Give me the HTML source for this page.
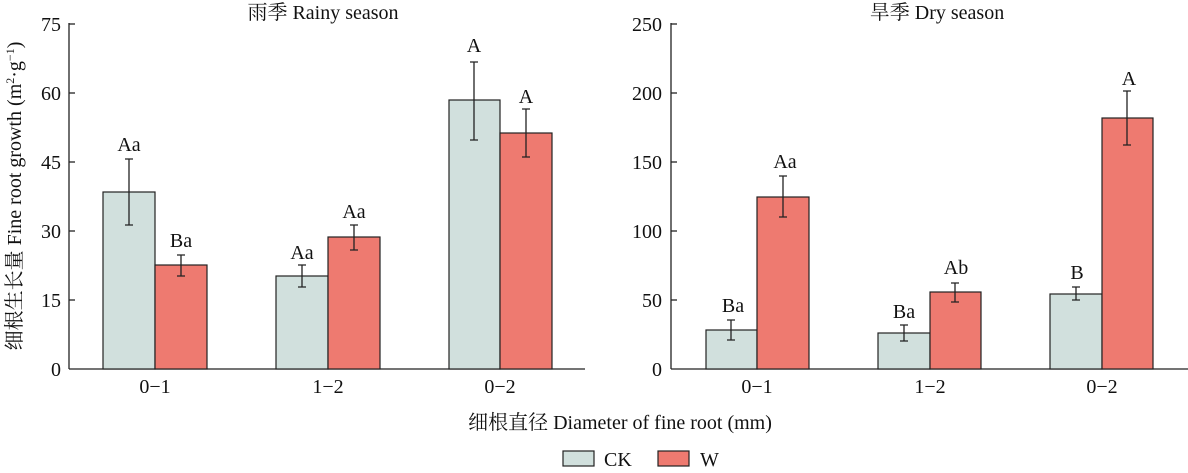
<!DOCTYPE html>
<html><head><meta charset="utf-8"><style>
body{margin:0;background:#fff;}
svg text{font-family:"Liberation Serif","Noto Serif CJK SC",serif;fill:#111;}
</style></head><body>
<svg width="1188" height="468" viewBox="0 0 1188 468" xmlns="http://www.w3.org/2000/svg">
<g stroke="#222" stroke-width="1.3">
<line x1="69" y1="23" x2="69" y2="369"/><line x1="69" y1="369" x2="585" y2="369"/>
<line x1="69" y1="24" x2="75" y2="24"/><line x1="69" y1="93" x2="75" y2="93"/><line x1="69" y1="162" x2="75" y2="162"/>
<line x1="69" y1="231" x2="75" y2="231"/><line x1="69" y1="300" x2="75" y2="300"/>
<line x1="671" y1="23" x2="671" y2="369"/><line x1="671" y1="369" x2="1188" y2="369"/>
<line x1="671" y1="24" x2="677" y2="24"/><line x1="671" y1="93" x2="677" y2="93"/><line x1="671" y1="162" x2="677" y2="162"/>
<line x1="671" y1="231" x2="677" y2="231"/><line x1="671" y1="300" x2="677" y2="300"/>
</g>
<g stroke="#222" stroke-width="1.2">
<rect x="103" y="192" width="52" height="177" fill="#d1e0dd"/>
<rect x="155" y="265" width="52" height="104" fill="#ee7a70"/>
<rect x="276" y="276" width="52" height="93" fill="#d1e0dd"/>
<rect x="328" y="237" width="52" height="132" fill="#ee7a70"/>
<rect x="449" y="100" width="51" height="269" fill="#d1e0dd"/>
<rect x="500" y="133" width="52" height="236" fill="#ee7a70"/>
<rect x="706" y="330" width="51" height="39" fill="#d1e0dd"/>
<rect x="757" y="197" width="52" height="172" fill="#ee7a70"/>
<rect x="878" y="333" width="52" height="36" fill="#d1e0dd"/>
<rect x="930" y="292" width="51" height="77" fill="#ee7a70"/>
<rect x="1050" y="294" width="52" height="75" fill="#d1e0dd"/>
<rect x="1102" y="118" width="51" height="251" fill="#ee7a70"/>
<rect x="563" y="451" width="31" height="15" fill="#d1e0dd"/>
<rect x="658" y="451" width="31" height="15" fill="#ee7a70"/>
</g>
<g stroke="#222" stroke-width="1.3" fill="none">
<path d="M129 159V225M125 159h8M125 225h8"/>
<path d="M181 255V276M177 255h8M177 276h8"/>
<path d="M302 265V287M298 265h8M298 287h8"/>
<path d="M354 225V250M350 225h8M350 250h8"/>
<path d="M474 62V140M470 62h8M470 140h8"/>
<path d="M526 109V157M522 109h8M522 157h8"/>
<path d="M731 320V340M727 320h8M727 340h8"/>
<path d="M783 176V217M779 176h8M779 217h8"/>
<path d="M904 325V341M900 325h8M900 341h8"/>
<path d="M955 283V302M951 283h8M951 302h8"/>
<path d="M1076 287V300M1072 287h8M1072 300h8"/>
<path d="M1127 91V145M1123 91h8M1123 145h8"/>
</g>
<g font-size="20" text-anchor="end">
<text x="61" y="31">75</text><text x="61" y="100">60</text><text x="61" y="169">45</text>
<text x="61" y="238">30</text><text x="61" y="307">15</text><text x="61" y="376">0</text>
<text x="662" y="31">250</text><text x="662" y="100">200</text><text x="662" y="169">150</text>
<text x="662" y="238">100</text><text x="662" y="307">50</text><text x="662" y="376">0</text>
</g>
<g font-size="20" text-anchor="middle">
<text x="155" y="393">0−1</text><text x="328" y="393">1−2</text><text x="500" y="393">0−2</text>
<text x="757" y="393">0−1</text><text x="930" y="393">1−2</text><text x="1102" y="393">0−2</text>
<text x="129" y="151">Aa</text><text x="181" y="247">Ba</text><text x="302" y="259">Aa</text>
<text x="354" y="218">Aa</text><text x="474" y="52">A</text><text x="526" y="103">A</text>
<text x="733" y="312">Ba</text><text x="785" y="168">Aa</text><text x="904" y="318">Ba</text>
<text x="956" y="274">Ab</text><text x="1077" y="279">B</text><text x="1129" y="85">A</text>
<text x="323" y="19">雨季 Rainy season</text>
<text x="937" y="19">旱季 Dry season</text>
<text x="620" y="429">细根直径 Diameter of fine root (mm)</text>
</g>
<text x="604" y="466" font-size="20">CK</text>
<text x="700" y="466" font-size="20">W</text>
<text transform="translate(21,196) rotate(-90)" font-size="20" text-anchor="middle">细根生长量 Fine root growth (m<tspan font-size="12" dy="-7">2</tspan><tspan dy="7">·g</tspan><tspan font-size="12" dy="-7">−1</tspan><tspan dy="7">)</tspan></text>
</svg>
</body></html>
